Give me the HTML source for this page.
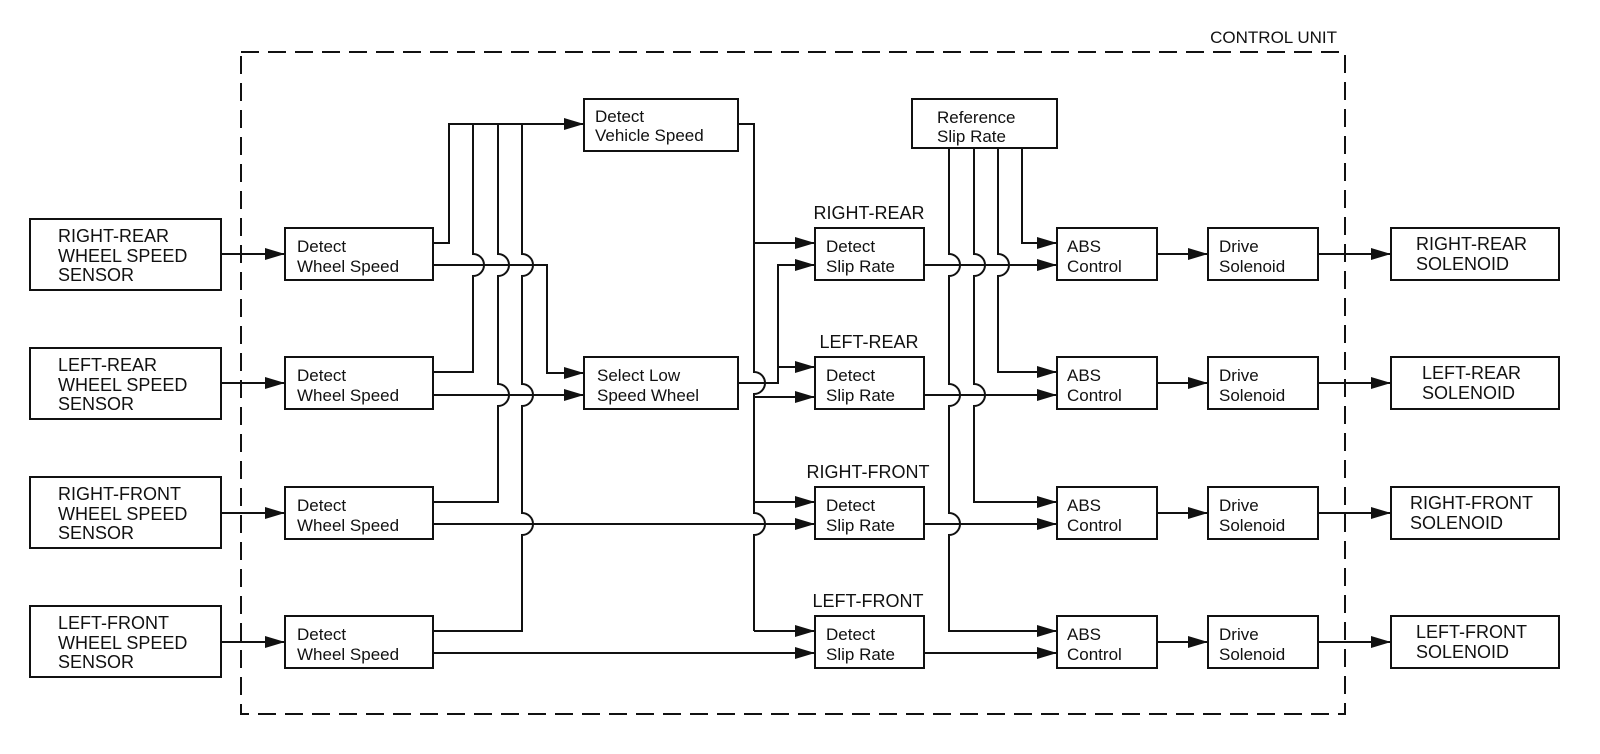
<!DOCTYPE html>
<html><head><meta charset="utf-8"><style>
html,body{margin:0;padding:0;background:#fff;}
svg{display:block;}
text{font-family:"Liberation Sans",Arial,sans-serif;fill:#111;}
</style></head><body>
<svg width="1600" height="754" viewBox="0 0 1600 754" xmlns="http://www.w3.org/2000/svg">
<defs>
<marker id="a" markerWidth="20" markerHeight="12" refX="20" refY="6" orient="auto" markerUnits="userSpaceOnUse">
<path d="M0,0 L20,6 L0,12 Z" fill="#111"/>
</marker>
</defs>
<g fill="none" stroke="#111" stroke-width="2">
<rect x="241" y="52" width="1104" height="662" stroke-dasharray="18,9"/>
</g>
<text x="1337" y="43" font-size="17" text-anchor="end">CONTROL UNIT</text>

<g fill="#fff" stroke="#111" stroke-width="2">
<rect x="30" y="219" width="191" height="71"/>
<rect x="30" y="348" width="191" height="71"/>
<rect x="30" y="477" width="191" height="71"/>
<rect x="30" y="606" width="191" height="71"/>
<rect x="285" y="228" width="148" height="52"/>
<rect x="285" y="357" width="148" height="52"/>
<rect x="285" y="487" width="148" height="52"/>
<rect x="285" y="616" width="148" height="52"/>
<rect x="584" y="99" width="154" height="52"/>
<rect x="584" y="357" width="154" height="52"/>
<rect x="815" y="228" width="109" height="52"/>
<rect x="815" y="357" width="109" height="52"/>
<rect x="815" y="487" width="109" height="52"/>
<rect x="815" y="616" width="109" height="52"/>
<rect x="912" y="99" width="145" height="49"/>
<rect x="1057" y="228" width="100" height="52"/>
<rect x="1057" y="357" width="100" height="52"/>
<rect x="1057" y="487" width="100" height="52"/>
<rect x="1057" y="616" width="100" height="52"/>
<rect x="1208" y="228" width="110" height="52"/>
<rect x="1208" y="357" width="110" height="52"/>
<rect x="1208" y="487" width="110" height="52"/>
<rect x="1208" y="616" width="110" height="52"/>
<rect x="1391" y="228" width="168" height="52"/>
<rect x="1391" y="357" width="168" height="52"/>
<rect x="1391" y="487" width="168" height="52"/>
<rect x="1391" y="616" width="168" height="52"/>
</g>

<g fill="none" stroke="#111" stroke-width="2">
<path d="M221,254 H285" marker-end="url(#a)"/>
<path d="M221,383 H285" marker-end="url(#a)"/>
<path d="M221,513 H285" marker-end="url(#a)"/>
<path d="M221,642 H285" marker-end="url(#a)"/>
<path d="M1157,254 H1208" marker-end="url(#a)"/>
<path d="M1157,383 H1208" marker-end="url(#a)"/>
<path d="M1157,513 H1208" marker-end="url(#a)"/>
<path d="M1157,642 H1208" marker-end="url(#a)"/>
<path d="M1318,254 H1391" marker-end="url(#a)"/>
<path d="M1318,383 H1391" marker-end="url(#a)"/>
<path d="M1318,513 H1391" marker-end="url(#a)"/>
<path d="M1318,642 H1391" marker-end="url(#a)"/>

<path d="M433,243 H449 V124 H584" marker-end="url(#a)"/>
<path d="M433,372 H473 V276 A11,11 0 0 0 473,254 V124"/>
<path d="M433,502 H498 V406 A11,11 0 0 0 498,384 V276 A11,11 0 0 0 498,254 V124"/>
<path d="M433,631 H522 V535 A11,11 0 0 0 522,513 V406 A11,11 0 0 0 522,384 V276 A11,11 0 0 0 522,254 V124"/>
<path d="M433,265 H547 V373 H584" marker-end="url(#a)"/>
<path d="M433,395 H584" marker-end="url(#a)"/>
<path d="M433,524 H815" marker-end="url(#a)"/>
<path d="M433,653 H815" marker-end="url(#a)"/>

<path d="M738,124 H754 V372 A11,11 0 0 1 754,394 V513 A11,11 0 0 1 754,535 V631"/>
<path d="M754,243 H815" marker-end="url(#a)"/>
<path d="M754,397 H815" marker-end="url(#a)"/>
<path d="M754,502 H815" marker-end="url(#a)"/>
<path d="M754,631 H815" marker-end="url(#a)"/>
<path d="M738,383 H778 V265 H815" marker-end="url(#a)"/>
<path d="M778,367 H815" marker-end="url(#a)"/>

<path d="M1022,148 V243 H1057" marker-end="url(#a)"/>
<path d="M998,148 V254 A11,11 0 0 1 998,276 V372 H1057" marker-end="url(#a)"/>
<path d="M974,148 V254 A11,11 0 0 1 974,276 V384 A11,11 0 0 1 974,406 V502 H1057" marker-end="url(#a)"/>
<path d="M949,148 V254 A11,11 0 0 1 949,276 V384 A11,11 0 0 1 949,406 V513 A11,11 0 0 1 949,535 V631 H1057" marker-end="url(#a)"/>
<path d="M924,265 H1057" marker-end="url(#a)"/>
<path d="M924,395 H1057" marker-end="url(#a)"/>
<path d="M924,524 H1057" marker-end="url(#a)"/>
<path d="M924,653 H1057" marker-end="url(#a)"/>
</g>

<g font-size="18">
<text x="58" y="242">RIGHT-REAR</text><text x="58" y="262">WHEEL SPEED</text><text x="58" y="281">SENSOR</text>
<text x="58" y="371">LEFT-REAR</text><text x="58" y="391">WHEEL SPEED</text><text x="58" y="410">SENSOR</text>
<text x="58" y="500">RIGHT-FRONT</text><text x="58" y="520">WHEEL SPEED</text><text x="58" y="539">SENSOR</text>
<text x="58" y="629">LEFT-FRONT</text><text x="58" y="649">WHEEL SPEED</text><text x="58" y="668">SENSOR</text>

<text x="1416" y="250">RIGHT-REAR</text><text x="1416" y="270">SOLENOID</text>
<text x="1422" y="379">LEFT-REAR</text><text x="1422" y="399">SOLENOID</text>
<text x="1410" y="509">RIGHT-FRONT</text><text x="1410" y="529">SOLENOID</text>
<text x="1416" y="638">LEFT-FRONT</text><text x="1416" y="658">SOLENOID</text>

<text x="869" y="219" text-anchor="middle">RIGHT-REAR</text>
<text x="869" y="348" text-anchor="middle">LEFT-REAR</text>
<text x="868" y="478" text-anchor="middle">RIGHT-FRONT</text>
<text x="868" y="607" text-anchor="middle">LEFT-FRONT</text>
</g>

<g font-size="17">
<text x="297" y="252">Detect</text><text x="297" y="272">Wheel Speed</text>
<text x="297" y="381">Detect</text><text x="297" y="401">Wheel Speed</text>
<text x="297" y="511">Detect</text><text x="297" y="531">Wheel Speed</text>
<text x="297" y="640">Detect</text><text x="297" y="660">Wheel Speed</text>

<text x="595" y="122">Detect</text><text x="595" y="141">Vehicle Speed</text>
<text x="597" y="381">Select Low</text><text x="597" y="401">Speed Wheel</text>

<text x="826" y="252">Detect</text><text x="826" y="272">Slip Rate</text>
<text x="826" y="381">Detect</text><text x="826" y="401">Slip Rate</text>
<text x="826" y="511">Detect</text><text x="826" y="531">Slip Rate</text>
<text x="826" y="640">Detect</text><text x="826" y="660">Slip Rate</text>

<text x="937" y="123">Reference</text><text x="937" y="142">Slip Rate</text>

<text x="1067" y="252">ABS</text><text x="1067" y="272">Control</text>
<text x="1067" y="381">ABS</text><text x="1067" y="401">Control</text>
<text x="1067" y="511">ABS</text><text x="1067" y="531">Control</text>
<text x="1067" y="640">ABS</text><text x="1067" y="660">Control</text>

<text x="1219" y="252">Drive</text><text x="1219" y="272">Solenoid</text>
<text x="1219" y="381">Drive</text><text x="1219" y="401">Solenoid</text>
<text x="1219" y="511">Drive</text><text x="1219" y="531">Solenoid</text>
<text x="1219" y="640">Drive</text><text x="1219" y="660">Solenoid</text>
</g>
</svg>
</body></html>
